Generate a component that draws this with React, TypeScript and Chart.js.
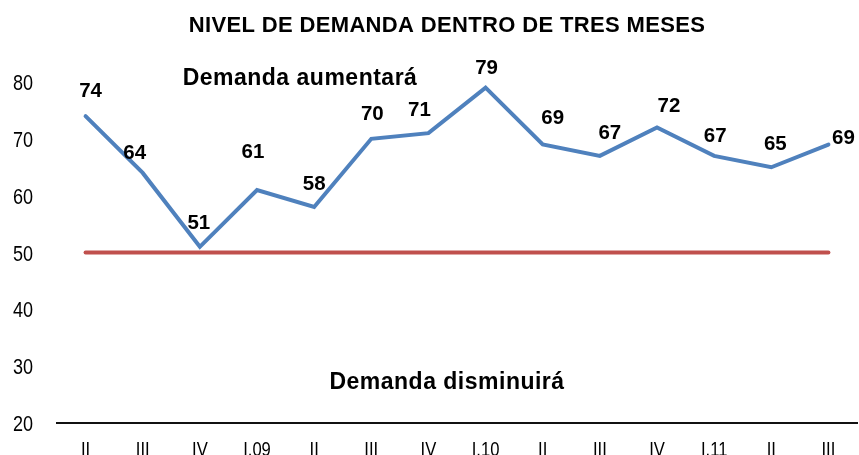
import React, { useEffect, useRef } from "react";
import { Chart, registerables } from "chart.js";

Chart.register(...registerables);

const categories = ["II", "III", "IV", "I.09", "II", "III", "IV", "I.10", "II", "III", "IV", "I.11", "II", "III"];
const demanda = [74, 64, 51, 61, 58, 70, 71, 79, 69, 67, 72, 67, 65, 69];
const referencia = [50, 50, 50, 50, 50, 50, 50, 50, 50, 50, 50, 50, 50, 50];
const yTicks = { min: 20, max: 80, step: 10 };
// label offsets (px) relative to each point, as placed in the source
const labelDx = [5, -8, -1, -4, 0, 1, -9, 1, 10, 10, 12, 1, 4, 15];
const labelDy = [-26, -21, -25, -39, -24, -26, -24, -21, -28, -24, -22, -21, -24, -8];

const TITLE = "NIVEL DE DEMANDA DENTRO DE TRES MESES";
const NOTE_UP = "Demanda aumentará";
const NOTE_DOWN = "Demanda disminuirá";

const FONT = "'Liberation Sans', Arial, sans-serif";

function narrowText(ctx: any, text: string, x: number, y: number, sx: number) {
  ctx.save();
  ctx.translate(x, y);
  ctx.scale(sx, 1);
  ctx.fillText(text, 0, 0);
  ctx.restore();
}

const textPlugin = {
  id: "textPlugin",
  afterDraw(chart: any) {
    const ctx = chart.ctx;
    const meta = chart.getDatasetMeta(0);
    const xs = chart.scales.x;
    const ys = chart.scales.y;
    ctx.save();
    ctx.fillStyle = "#000";
    ctx.textBaseline = "alphabetic";

    // y tick labels (condensed)
    ctx.textAlign = "right";
    ctx.font = "22px " + FONT;
    ys.ticks.forEach((t: any) => {
      const py = ys.getPixelForValue(t.value);
      narrowText(ctx, String(t.value), 33, py + 8, 0.82);
    });

    // x tick labels (condensed)
    ctx.textAlign = "center";
    ctx.font = "20px " + FONT;
    categories.forEach((c, i) => {
      const px = xs.getPixelForTick(i);
      narrowText(ctx, c, px, 455.5, 0.83);
    });

    // data labels
    ctx.font = "bold 20.5px " + FONT;
    meta.data.forEach((pt: any, i: number) => {
      ctx.fillText(String(demanda[i]), pt.x + labelDx[i], pt.y + labelDy[i] + 7);
    });

    ctx.font = "bold 22px " + FONT;
    (ctx as any).letterSpacing = "0.35px";
    ctx.fillText(TITLE, 447, 32);
    ctx.font = "bold 23px " + FONT;
    (ctx as any).letterSpacing = "0.5px";
    ctx.fillText(NOTE_UP, 300, 85);
    ctx.fillText(NOTE_DOWN, 447, 389);
    ctx.restore();
  },
};

export default function App() {
  const ref = useRef<HTMLCanvasElement>(null);
  useEffect(() => {
    if (!ref.current) return;
    const chart = new Chart(ref.current, {
      type: "line",
      data: {
        labels: categories,
        datasets: [
          {
            data: demanda,
            borderColor: "#4F81BD",
            borderWidth: 4,
            pointRadius: 0,
            borderCapStyle: "round",
            borderJoinStyle: "miter",
            tension: 0,
          },
          {
            data: referencia,
            borderColor: "#C0504D",
            borderWidth: 4,
            pointRadius: 0,
            borderCapStyle: "round",
            tension: 0,
          },
        ],
      },
      options: {
        animation: false,
        responsive: false,
        maintainAspectRatio: false,
        layout: { padding: { top: 82, right: 2, left: 0, bottom: 0 } },
        plugins: {
          legend: { display: false },
          title: { display: false },
          tooltip: { enabled: false },
        },
        scales: {
          x: {
            offset: true,
            grid: { display: false, drawTicks: false },
            border: { display: true, color: "#111", width: 2 },
            ticks: { display: false, autoSkip: false, maxRotation: 0 },
            afterFit(scale: any) {
              scale.height = 32;
            },
          },
          y: {
            min: yTicks.min,
            max: yTicks.max,
            grid: { display: false, drawTicks: false },
            border: { display: false },
            ticks: { display: false, stepSize: yTicks.step },
            afterFit(scale: any) {
              scale.width = 57;
            },
          },
        },
      },
      plugins: [textPlugin],
    } as any);
    return () => chart.destroy();
  }, []);
  return (
    <div style={{ position: "absolute", left: 0, top: 0, width: 859, height: 455, background: "#fff" }}>
      <canvas ref={ref} width={859} height={455} style={{ width: 859, height: 455 }} />
    </div>
  );
}
